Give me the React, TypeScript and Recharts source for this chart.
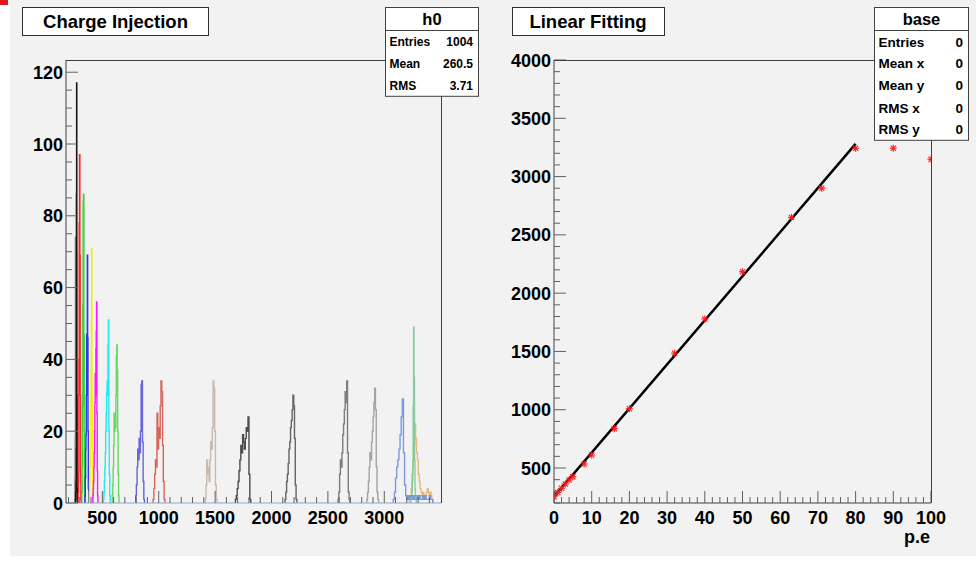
import React from "react";
import { ComposedChart, Line, LineChart, Scatter, XAxis, YAxis } from "recharts";

const FONT = '"Liberation Sans", Arial, Helvetica, sans-serif';

// ---- Charge Injection: one histogram per injected charge (first bin edge, bin width, counts)
const grayCounts = [7, 18, 74, 72, 74, 70, 28, 4];
const blackCounts = [1, 3, 6, 15, 86, 117, 30, 4];
const redCounts = [3, 9, 40, 78, 97, 69, 30, 6, 1];
const greenCounts = [3, 10, 27, 55, 84, 86, 47, 20, 4, 1];
const blueCounts = [2, 7, 15, 19, 30, 47, 40, 69, 46, 20, 4];
const yellowCounts = [3, 6, 10, 15, 27, 37, 50, 71, 30, 10, 3, 1];
const magentaCounts = [2, 4, 6, 10, 14, 20, 28, 36, 30, 43, 48, 56, 25, 9, 2];
const cyanCounts = [1, 3, 6, 10, 14, 20, 25, 31, 34, 30, 44, 51, 20, 8, 2];
const lightGreenCounts = [2, 5, 10, 16, 25, 20, 25, 21, 30, 41, 44, 37, 20, 8, 2];
const slateCounts = [2, 5, 10, 15, 12, 18, 14, 20, 33, 34, 17, 6, 1];
const indianRedCounts = [1, 4, 8, 12, 10, 25, 15, 21, 18, 27, 34, 31, 16, 6, 1];
const tanCounts = [1, 5, 12, 8, 10, 6, 12, 17, 15, 21, 34, 32, 20, 5, 1];
const darkGrayCounts = [1, 2, 4, 6, 9, 12, 16, 14, 19, 17, 15, 18, 21, 20, 24, 8, 1];
const grayACounts = [1, 3, 6, 8, 11, 15, 17, 21, 23, 26, 30, 27, 18, 5, 1];
const grayBCounts = [1, 3, 8, 12, 10, 14, 19, 22, 26, 31, 28, 34, 14, 3, 1];
const grayCCounts = [1, 3, 6, 10, 14, 12, 17, 20, 24, 28, 32, 26, 10, 3, 1];
const orangeCounts = [1, 2, 4, 8, 12, 16, 22, 18, 14, 12, 8, 6, 4, 3, 2, 3, 2, 1, 2, 3, 4, 3, 2, 3, 2, 1];
const seaGreenCounts = [1, 2, 3, 6, 10, 27, 49, 35, 12, 4, 2, 1];
const cornflowerCounts = [
  1, 3, 7, 10, 12, 15, 19, 24, 29, 14, 5, 2, 1, 2, 1, 2, 2, 1, 2, 1, 1, 2, 1, 2, 1, 1, 2, 1, 2, 1, 1, 1, 2,
  1, 1, 0,
];

const histXMajor = [500, 1000, 1500, 2000, 2500, 3000];
const histYMajor = [0, 20, 40, 60, 80, 100, 120];

// ---- Linear Fitting: peak position vs number of photo-electrons
const peValues = [0, 1, 2, 3, 4, 5, 8, 10, 16, 20, 32, 40, 50, 63, 71, 80, 90, 100];
const peakValues = [254, 290, 326, 363, 397, 425, 535, 612, 837, 1009, 1485, 1779, 2184, 2650, 2900, 3243, 3243, 3148];
const fitPe = [0, 80];
const fitCharge = [254, 3280];

const peMajor = [0, 10, 20, 30, 40, 50, 60, 70, 80, 90, 100];
const chargeMajor = [500, 1000, 1500, 2000, 2500, 3000, 3500, 4000];

const range = (from: number, to: number, step: number) => {
  const out: number[] = [];
  for (let v = from; v <= to + 1e-9; v += step) out.push(v);
  return out;
};

type Hist = { color: string; start: number; width: number; counts: number[] };

const histograms: Hist[] = [
  { color: "#8c8c8c", start: 255, width: 3, counts: grayCounts },
  { color: "#000000", start: 262, width: 2, counts: blackCounts },
  { color: "#ff1010", start: 286, width: 3, counts: redCounts },
  { color: "#1ed01e", start: 318, width: 3, counts: greenCounts },
  { color: "#2020f0", start: 346, width: 3, counts: blueCounts },
  { color: "#eeee00", start: 384, width: 3, counts: yellowCounts },
  { color: "#ff00ff", start: 416, width: 3, counts: magentaCounts },
  { color: "#10e8f0", start: 510, width: 4, counts: cyanCounts },
  { color: "#59d454", start: 588, width: 4, counts: lightGreenCounts },
  { color: "#5954d8", start: 796, width: 6, counts: slateCounts },
  { color: "#d0564a", start: 950, width: 7, counts: indianRedCounts },
  { color: "#c2b4a6", start: 1412, width: 7, counts: tanCounts },
  { color: "#3a3a3a", start: 1680, width: 8, counts: darkGrayCounts },
  { color: "#555555", start: 2120, width: 7, counts: grayACounts },
  { color: "#707070", start: 2590, width: 7, counts: grayBCounts },
  { color: "#9a9a9a", start: 2845, width: 7, counts: grayCCounts },
  { color: "#e5b36e", start: 3222, width: 8, counts: orangeCounts },
  { color: "#7cc89a", start: 3236, width: 4, counts: seaGreenCounts },
  { color: "#6e90d6", start: 3080, width: 10, counts: cornflowerCounts },
];

const histPoints = (h: Hist) => [
  { x: h.start, y: 0 },
  ...h.counts.map((c, i) => ({ x: h.start + i * h.width, y: c })),
  { x: h.start + h.counts.length * h.width, y: 0 },
];

const fitPoints = peValues.map((pe, i) => ({ x: pe, y: peakValues[i] }));
const fitLine = fitPe.map((pe, i) => ({ x: pe, y: fitCharge[i] }));

// layout
const PLOT_TOP = 60;
const PLOT_BOTTOM = 503;
const LEFT_AXIS_X = 66;
const RIGHT_AXIS_X = 64; // inside the right chart
const TICK_COLOR = "#606060";

const labelStyle = { fontFamily: FONT, fontWeight: 700, fontSize: 18, fill: "#000" } as const;

const makeXTick = (major: number[]) => (p: any) => {
  const v = p.payload.value;
  const isMajor = major.includes(v);
  return (
    <g>
      <line x1={p.x} x2={p.x} y1={PLOT_BOTTOM} y2={PLOT_BOTTOM - (isMajor ? 12 : 6)} stroke={TICK_COLOR} />
      {isMajor ? (
        <text x={p.x} y={PLOT_BOTTOM + 21} textAnchor="middle" {...labelStyle}>
          {v}
        </text>
      ) : null}
    </g>
  );
};

const makeYTick = (major: number[], axisX: number) => (p: any) => {
  const v = p.payload.value;
  const isMajor = major.includes(v);
  return (
    <g>
      <line x1={axisX} x2={axisX + (isMajor ? 12 : 6)} y1={p.y} y2={p.y} stroke={TICK_COLOR} />
      {isMajor ? (
        <text x={axisX - 3} y={p.y + 6.5} textAnchor="end" {...labelStyle}>
          {v}
        </text>
      ) : null}
    </g>
  );
};

function Asterisk(props: any) {
  const { cx, cy } = props;
  const r = 3.5;
  const d = 2.6;
  return (
    <g stroke="#ff1a1a" strokeWidth={1.1}>
      <line x1={cx - r} x2={cx + r} y1={cy} y2={cy} />
      <line x1={cx} x2={cx} y1={cy - r} y2={cy + r} />
      <line x1={cx - d} x2={cx + d} y1={cy - d} y2={cy + d} />
      <line x1={cx - d} x2={cx + d} y1={cy + d} y2={cy - d} />
    </g>
  );
}

function StatsBox({
  x,
  width,
  title,
  rows,
  rowYs,
  fontSize,
}: {
  x: number;
  width: number;
  title: string;
  rows: [string, string][];
  rowYs: number[];
  fontSize: number;
}) {
  const height = rowYs[rowYs.length - 1] + 11 - 7.5;
  return (
    <g>
      <rect x={x} y={7.5} width={width} height={height} fill="#fff" stroke="#404040" />
      <line x1={x} x2={x + width} y1={30.5} y2={30.5} stroke="#404040" />
      <text x={x + width / 2} y={25} textAnchor="middle" fontFamily={FONT} fontWeight={700} fontSize={16.5}>
        {title}
      </text>
      {rows.map(([k, v], i) => (
        <g key={k}>
          <text x={x + 4} y={rowYs[i] + fontSize * 0.36} fontFamily={FONT} fontWeight={700} fontSize={fontSize}>
            {k}
          </text>
          <text
            x={x + width - 5.5}
            y={rowYs[i] + fontSize * 0.36}
            textAnchor="end"
            fontFamily={FONT}
            fontWeight={700}
            fontSize={fontSize}
          >
            {v}
          </text>
        </g>
      ))}
    </g>
  );
}

export default function App() {
  return (
    <div style={{ position: "absolute", left: 0, top: 0, width: 980, height: 562, background: "#fff" }}>
      <div style={{ position: "absolute", left: 10, top: 0, width: 966, height: 556, background: "#f2f2f2" }} />
      <div style={{ position: "absolute", left: 0, top: 0, width: 8, height: 5, background: "#e01818" }} />

      <div style={{ position: "absolute", left: 0, top: 0 }}>
        <LineChart width={490} height={562} margin={{ top: PLOT_TOP, right: 49, bottom: 0, left: 0 }}>
          <XAxis
            type="number"
            dataKey="x"
            domain={[178, 3503]}
            allowDataOverflow
            ticks={range(200, 3400, 100)}
            interval={0}
            tick={makeXTick(histXMajor)}
            tickLine={false}
            tickSize={0}
            height={59}
            axisLine={{ stroke: "#8ea8dc" }}
          />
          <YAxis
            type="number"
            domain={[0, 123.4]}
            allowDataOverflow
            ticks={range(0, 120, 5)}
            interval={0}
            tick={makeYTick(histYMajor, LEFT_AXIS_X)}
            tickLine={false}
            tickSize={0}
            width={LEFT_AXIS_X}
            axisLine={{ stroke: "#404040" }}
          />
          {histograms.map((h, i) => (
            <Line
              key={i}
              data={histPoints(h)}
              dataKey="y"
              type="stepAfter"
              stroke={h.color}
              strokeWidth={1.4}
              strokeOpacity={0.9}
              dot={false}
              isAnimationActive={false}
            />
          ))}
        </LineChart>
      </div>

      <div style={{ position: "absolute", left: 490, top: 0 }}>
        <ComposedChart width={490} height={562} margin={{ top: PLOT_TOP, right: 49, bottom: 0, left: 0 }}>
          <XAxis
            type="number"
            dataKey="x"
            domain={[0, 100]}
            allowDataOverflow
            ticks={range(0, 100, 2)}
            interval={0}
            tick={makeXTick(peMajor)}
            tickLine={false}
            tickSize={0}
            height={59}
            axisLine={{ stroke: "#404040" }}
          />
          <YAxis
            type="number"
            dataKey="y"
            domain={[200, 4000]}
            allowDataOverflow
            ticks={range(200, 4000, 100)}
            interval={0}
            tick={makeYTick(chargeMajor, RIGHT_AXIS_X)}
            tickLine={false}
            tickSize={0}
            width={RIGHT_AXIS_X}
            axisLine={{ stroke: "#404040" }}
          />
          <Scatter data={fitPoints} dataKey="y" shape={<Asterisk />} isAnimationActive={false} />
          <Line
            data={fitLine}
            dataKey="y"
            type="linear"
            stroke="#000"
            strokeWidth={2.5}
            dot={false}
            isAnimationActive={false}
          />
        </ComposedChart>
      </div>

      <svg
        width={980}
        height={562}
        style={{ position: "absolute", left: 0, top: 0, pointerEvents: "none" }}
      >
        {/* frames */}
        <line x1={66} x2={441.5} y1={60.5} y2={60.5} stroke="#404040" />
        <line x1={441.5} x2={441.5} y1={60} y2={503} stroke="#404040" />
        <line x1={554} x2={931.5} y1={60.5} y2={60.5} stroke="#404040" />
        <line x1={931.5} x2={931.5} y1={60} y2={503} stroke="#404040" />

        {/* pad titles */}
        <rect x={22.5} y={7.5} width={186} height={28} fill="#fff" stroke="#303030" />
        <text x={115.5} y={27.5} textAnchor="middle" fontFamily={FONT} fontWeight={700} fontSize={18.5}>
          Charge Injection
        </text>
        <rect x={512.5} y={7.5} width={152} height={28} fill="#fff" stroke="#303030" />
        <text x={588} y={27.5} textAnchor="middle" fontFamily={FONT} fontWeight={700} fontSize={18.5}>
          Linear Fitting
        </text>

        <StatsBox
          x={385.5}
          width={93}
          title="h0"
          rows={[
            ["Entries", "1004"],
            ["Mean", "260.5"],
            ["RMS", "3.71"],
          ]}
          rowYs={[41.7, 63.3, 85.3]}
          fontSize={12}
        />
        <StatsBox
          x={874.5}
          width={94}
          title="base"
          rows={[
            ["Entries", "0"],
            ["Mean x", "0"],
            ["Mean y", "0"],
            ["RMS x", "0"],
            ["RMS y", "0"],
          ]}
          rowYs={[41.7, 63.3, 85, 108.3, 129.3]}
          fontSize={13.5}
        />

        <text x={930} y={543} textAnchor="end" fontFamily={FONT} fontWeight={700} fontSize={18}>
          p.e
        </text>
      </svg>
    </div>
  );
}
